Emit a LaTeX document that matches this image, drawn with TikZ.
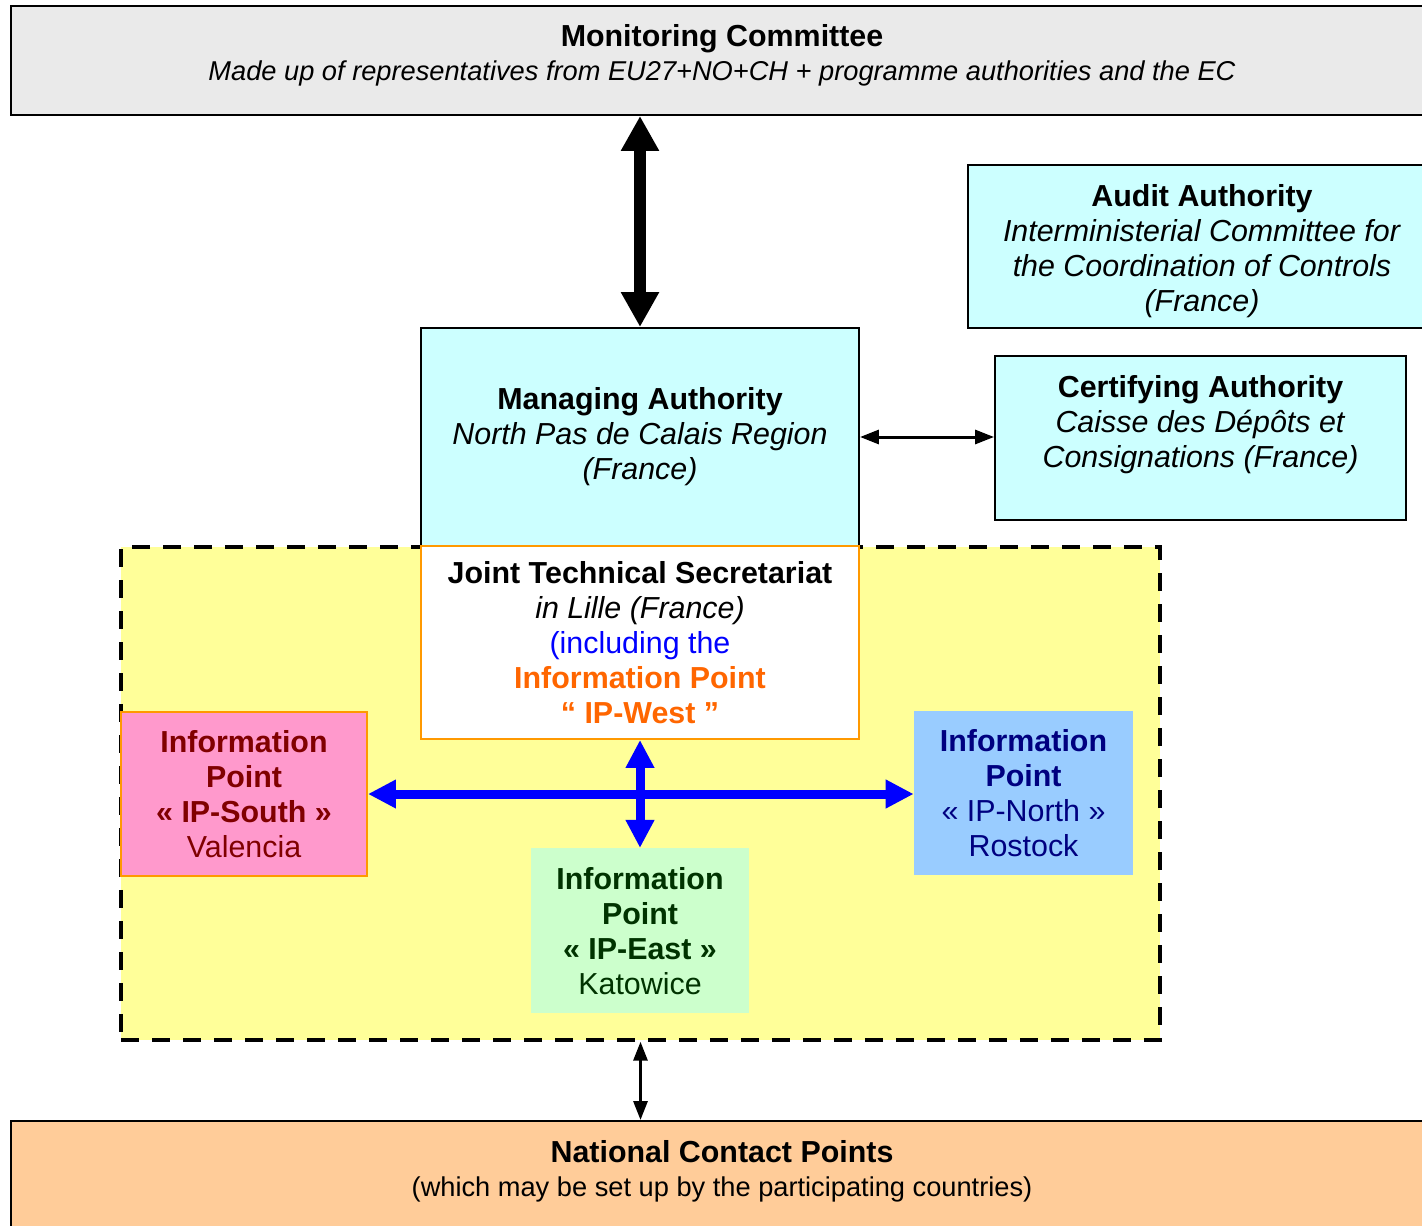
\documentclass[tikz,border=0pt]{standalone}
\usepackage{fontspec}
\setmainfont{Liberation Sans}
\usetikzlibrary{arrows.meta,positioning}

\definecolor{mcgray}{HTML}{EAEAEA}
\definecolor{authcyan}{HTML}{CCFFFF}
\definecolor{areayellow}{HTML}{FFFF99}
\definecolor{boxorange}{HTML}{FF9900}
\definecolor{ipwest}{HTML}{FF6600}
\definecolor{southpink}{HTML}{FF99CC}
\definecolor{southtext}{HTML}{800000}
\definecolor{northblue}{HTML}{99CCFF}
\definecolor{northtext}{HTML}{000080}
\definecolor{eastgreen}{HTML}{CCFFCC}
\definecolor{easttext}{HTML}{003300}
\definecolor{ncpeach}{HTML}{FFCC99}

\newcommand{\subfont}{\fontsize{15.5}{19.3}\selectfont}

\begin{document}
\begin{tikzpicture}[x=0.02cm,y=-0.02cm,
    font=\fontsize{17.3}{19.9}\selectfont,
    box/.style={draw,line width=0.04cm,inner sep=0pt,align=center},
    ipbox/.style={inner sep=0pt,align=center,minimum width=#1,minimum height=3.28cm},
    bigarrow/.style={line width=0.24cm,{Triangle[width=0.72cm,length=0.7cm]}-{Triangle[width=0.72cm,length=0.7cm]}},
    thinarrow/.style={line width=0.06cm,{Triangle[width=0.28cm,length=0.38cm]}-{Triangle[width=0.28cm,length=0.38cm]}},
    bluearrow/.style={blue,line width=0.18cm,{Triangle[width=0.54cm,length=0.56cm]}-{Triangle[width=0.54cm,length=0.56cm]}}]
    \useasboundingbox (0,0) rectangle (1422,1226);

    % programme bodies
    \node[box,fill=mcgray,minimum width=28.44cm,minimum height=2.18cm] (mc) at (722,60.5) {};
    \node[align=center,font=\fontsize{17.3}{19.3}\selectfont] (mctext) at (722,55)
        {\textbf{Monitoring Committee}\\
         {\subfont\itshape Made up of representatives from EU27+NO+CH + programme authorities and the EC}};

    \node[box,fill=authcyan,minimum width=9.36cm,minimum height=3.26cm] (aa) at (1202,246.5) {};
    \node[align=center] (aatext) at (1202,251)
        {\textbf{Audit Authority}\\ \textit{Interministerial Committee for}\\
         \textit{the Coordination of Controls}\\ \textit{(France)}};

    \node[box,fill=authcyan,minimum width=8.22cm,minimum height=3.28cm] (ca) at (1200.5,438) {};
    \node[align=center] (catext) at (1200.5,425)
        {\textbf{Certifying Authority}\\ \textit{Caisse des Dépôts et}\\
         \textit{Consignations (France)}};

    % joint secretariat area
    \node[draw,fill=areayellow,line width=0.07cm,dash pattern=on 0.36cm off 0.26cm,
          minimum width=20.78cm,minimum height=9.86cm] (area) at (640.5,793.5) {};

    \node[box,fill=authcyan,minimum width=8.76cm,minimum height=4.36cm] (ma) at (640,437)
        {\textbf{Managing Authority}\\ \textit{North Pas de Calais Region}\\ \textit{(France)}};

    \node[box,draw=boxorange,fill=white,minimum width=8.76cm,minimum height=3.86cm]
        (jts) [below=-0.04cm of ma]
        {\textbf{Joint Technical Secretariat}\\ \textit{in Lille (France)}\\
         \textcolor{blue}{(including the}\\
         \textcolor{ipwest}{\textbf{Information Point}}\\
         \textcolor{ipwest}{\textbf{“ IP-West ”}}};

    \node[ipbox=4.92cm,draw=boxorange,line width=0.04cm,fill=southpink,text=southtext] (ips) at (244,794)
        {\textbf{Information}\\ \textbf{Point}\\ \textbf{« IP-South »}\\ Valencia};

    \node[ipbox=4.38cm,fill=northblue,text=northtext] (ipn) at (1023.5,793)
        {\textbf{Information}\\ \textbf{Point}\\ « IP-North »\\ Rostock};

    \node[ipbox=4.36cm,fill=eastgreen,text=easttext,minimum height=3.3cm] (ipe) [below=2.16cm of jts]
        {\textbf{Information}\\ \textbf{Point}\\ \textbf{« IP-East »}\\ Katowice};

    \node[box,fill=ncpeach,minimum width=28.44cm,minimum height=2.18cm] (ncp) at (722,1175.5) {};
    \node[align=center,font=\fontsize{17.3}{19.3}\selectfont] (ncptext) at (722,1171)
        {\textbf{National Contact Points}\\
         {\subfont (which may be set up by the participating countries)}};

    % links
    \draw[bigarrow] (ma.north |- mc.south) -- (ma.north);
    \draw[thinarrow] (ma.east) -- (ma.east -| ca.west);
    \draw[bluearrow] (ips.east) -- (ips.east -| ipn.west);
    \draw[bluearrow] (jts.south) -- (ipe.north);
    \draw[thinarrow] (area.south) -- (area.south |- ncp.north);
\end{tikzpicture}
\end{document}
